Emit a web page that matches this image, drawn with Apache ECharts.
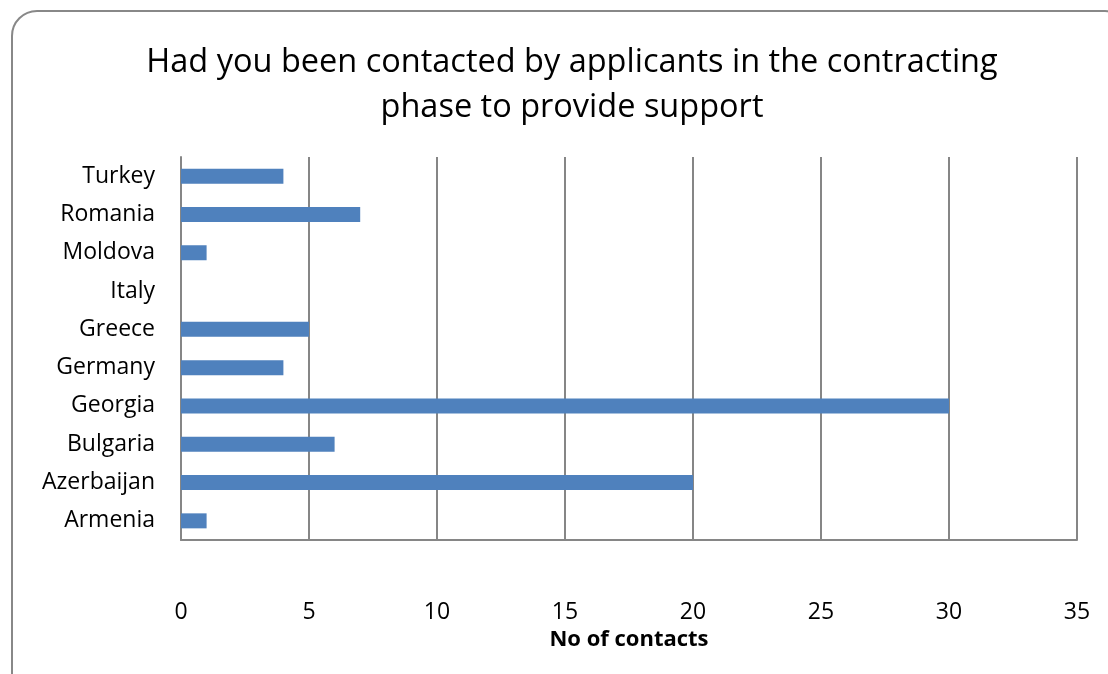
<!DOCTYPE html>
<html>
<head>
<meta charset="utf-8">
<script src="https://cdn.jsdelivr.net/npm/echarts@6/dist/echarts.min.js"></script>
<style>
  html, body { margin: 0; padding: 0; background: #fff; overflow: hidden; }
  #frame {
    position: absolute; left: 11px; top: 10px; width: 1120px; height: 700px;
    border: 2px solid #888; border-radius: 26px; box-sizing: border-box;
  }
  #chart { position: absolute; left: 0; top: 0; width: 1108px; height: 674px; }
</style>
</head>
<body>
<div id="frame"></div>
<div id="chart"></div>
<script>
// bottom to top, as drawn
const countries = ['Armenia', 'Azerbaijan', 'Bulgaria', 'Georgia', 'Germany', 'Greece', 'Italy', 'Moldova', 'Romania', 'Turkey']
const contacts = [1, 20, 6, 30, 4, 5, 0, 1, 7, 4]

const myChart = echarts.init(document.getElementById('chart'))
const font = '"Open Sans", "Noto Sans", sans-serif'

const option = {
  animation: false,
  title: {
    text: 'Had you been contacted by applicants in the contracting\nphase to provide support',
    left: 567,
    textAlign: 'center',
    top: 35,
    textStyle: { fontFamily: font, fontSize: 32.5, fontWeight: 'normal', color: '#000', lineHeight: 45 },
  },
  grid: { left: 181, right: 31, top: 157, bottom: 134 },
  xAxis: {
    type: 'value',
    min: 0,
    max: 35,
    interval: 5,
    name: 'No of contacts',
    nameLocation: 'middle',
    nameGap: 87,
    nameTextStyle: { fontFamily: font, fontSize: 22, fontWeight: 'bold', color: '#000' },
    axisLine: { show: true, lineStyle: { color: '#868686', width: 2 } },
    axisTick: { show: false },
    axisLabel: { fontFamily: font, fontSize: 23, color: '#000', margin: 61 },
    splitLine: { show: true, lineStyle: { color: '#868686', width: 2 } },
  },
  yAxis: {
    type: 'category',
    data: countries,
    axisLine: { show: true, lineStyle: { color: '#868686', width: 2 } },
    axisTick: { show: false },
    axisLabel: { fontFamily: font, fontSize: 23, color: '#000', margin: 26 },
  },
  series: [
    {
      type: 'bar',
      data: contacts,
      barWidth: 15,
      itemStyle: { color: '#4F81BD' },
    },
  ],
}
myChart.setOption(option)
</script>
</body>
</html>
